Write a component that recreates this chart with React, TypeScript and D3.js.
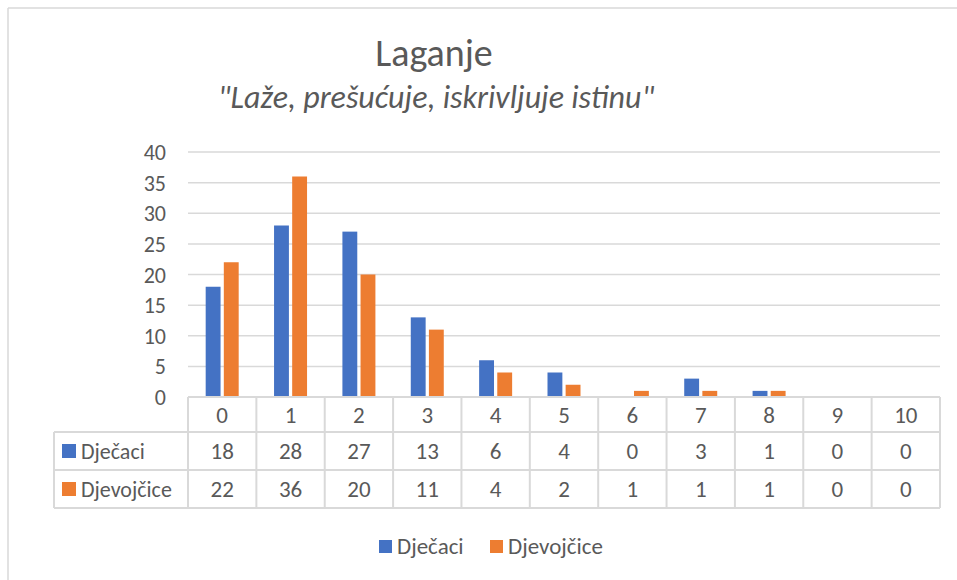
import { useRef, useEffect } from "react";
import * as d3 from "d3";

const categories = ["0", "1", "2", "3", "4", "5", "6", "7", "8", "9", "10"];
const seriesNames = ["Dječaci", "Djevojčice"];
const djecaci = [18, 28, 27, 13, 6, 4, 0, 3, 1, 0, 0];
const djevojcice = [22, 36, 20, 11, 4, 2, 1, 1, 1, 0, 0];
const colors = ["#4472C4", "#ED7D31"];
const yTicks = [0, 5, 10, 15, 20, 25, 30, 35, 40];

const FONT = "Carlito, Lato, 'Liberation Sans', sans-serif";
const TEXT = "#595959";
const GRID = "#d9d9d9";

export default function App() {
  const svgRef = useRef<SVGSVGElement>(null);

  useEffect(() => {
    if (!svgRef.current) return;
    const width = 957;
    const height = 580;
    const plot = { left: 188, right: 940, top: 152, bottom: 397 };
    const tableLeft = 54;
    const rowLines = [397, 432, 470, 508];
    const fs = 23;

    const svg = d3.select(svgRef.current);
    svg.selectAll("*").remove();
    svg.attr("width", width).attr("height", height).attr("viewBox", `0 0 ${width} ${height}`);

    svg.append("rect").attr("width", width).attr("height", height).attr("fill", "#fff");

    // outer chart border (top and left visible)
    svg.append("line").attr("x1", 8).attr("x2", width).attr("y1", 8).attr("y2", 8)
      .attr("stroke", GRID).attr("stroke-width", 1.5);
    svg.append("line").attr("x1", 8).attr("x2", 8).attr("y1", 8).attr("y2", height)
      .attr("stroke", GRID).attr("stroke-width", 1.5);

    // titles
    svg.append("text")
      .attr("x", 434).attr("y", 66)
      .attr("text-anchor", "middle")
      .attr("font-family", FONT).attr("font-weight", 300)
      .attr("font-size", 38).attr("fill", TEXT)
      .text("Laganje");
    svg.append("text")
      .attr("x", 436).attr("y", 108)
      .attr("text-anchor", "middle")
      .attr("font-family", FONT).attr("font-style", "italic")
      .attr("font-size", 32).attr("fill", TEXT)
      .text("\"Laže, prešućuje, iskrivljuje istinu\"");

    const x = d3.scaleBand<string>().domain(categories).range([plot.left, plot.right]);
    const bw = x.bandwidth();
    const inner = d3.scaleBand<string>()
      .domain(seriesNames)
      .range([bw / 2 - 16.5, bw / 2 + 16.5])
      .paddingInner(0.18);
    const y = d3.scaleLinear().domain([0, 40]).range([plot.bottom, plot.top]);

    // gridlines
    svg.append("g")
      .selectAll("line")
      .data(yTicks.slice(1))
      .join("line")
      .attr("x1", plot.left).attr("x2", plot.right)
      .attr("y1", (d) => y(d)).attr("y2", (d) => y(d))
      .attr("stroke", GRID).attr("stroke-width", 1.5);

    // y labels
    svg.append("g")
      .selectAll("text")
      .data(yTicks)
      .join("text")
      .attr("x", 166).attr("y", (d) => y(d) + 8)
      .attr("text-anchor", "end")
      .attr("font-family", FONT).attr("font-size", 22).attr("fill", TEXT)
      .text((d) => d);

    // bars
    const allSeries = [djecaci, djevojcice];
    allSeries.forEach((vals, si) => {
      svg.append("g")
        .selectAll("rect")
        .data(vals)
        .join("rect")
        .attr("x", (_d, i) => (x(categories[i]) as number) + (inner(seriesNames[si]) as number))
        .attr("y", (d) => y(d))
        .attr("width", inner.bandwidth())
        .attr("height", (d) => plot.bottom - y(d))
        .attr("fill", colors[si]);
    });

    // data table
    const tbl = svg.append("g");
    const lineStyle = (sel: any) => sel.attr("stroke", GRID).attr("stroke-width", 2);
    rowLines.forEach((ly, i) => {
      tbl.append("line")
        .attr("x1", i === 0 ? plot.left : tableLeft).attr("x2", plot.right)
        .attr("y1", ly).attr("y2", ly)
        .call(lineStyle);
    });
    const vx = categories.map((c) => x(c) as number).concat([plot.right]);
    vx.forEach((lx) => {
      tbl.append("line").attr("x1", lx).attr("x2", lx)
        .attr("y1", rowLines[0]).attr("y2", rowLines[3]).call(lineStyle);
    });
    tbl.append("line").attr("x1", tableLeft).attr("x2", tableLeft)
      .attr("y1", rowLines[1]).attr("y2", rowLines[3]).call(lineStyle);

    // category header
    tbl.selectAll("text.cat")
      .data(categories)
      .join("text")
      .attr("class", "cat")
      .attr("x", (d) => (x(d) as number) + bw / 2)
      .attr("y", (rowLines[0] + rowLines[1]) / 2 + 8)
      .attr("text-anchor", "middle")
      .attr("font-family", FONT).attr("font-size", fs).attr("fill", TEXT)
      .text((d) => d);

    allSeries.forEach((vals, si) => {
      const cy = (rowLines[si + 1] + rowLines[si + 2]) / 2 + 8;
      tbl.append("rect")
        .attr("x", 62).attr("y", cy - 15).attr("width", 14).attr("height", 14)
        .attr("fill", colors[si]);
      tbl.append("text")
        .attr("x", 81).attr("y", cy)
        .attr("font-family", FONT).attr("font-size", 22).attr("fill", TEXT)
        .text(seriesNames[si]);
      tbl.append("g")
        .selectAll("text")
        .data(vals)
        .join("text")
        .attr("x", (_d, i) => (x(categories[i]) as number) + bw / 2)
        .attr("y", cy)
        .attr("text-anchor", "middle")
        .attr("font-family", FONT).attr("font-size", fs).attr("fill", TEXT)
        .text((d) => d);
    });

    // legend
    const legendItems = [
      { name: seriesNames[0], sx: 379, tx: 397 },
      { name: seriesNames[1], sx: 490, tx: 508 },
    ];
    legendItems.forEach((it, i) => {
      svg.append("rect").attr("x", it.sx).attr("y", 540).attr("width", 13).attr("height", 13)
        .attr("fill", colors[i]);
      svg.append("text").attr("x", it.tx).attr("y", 554)
        .attr("font-family", FONT).attr("font-size", fs).attr("fill", TEXT)
        .text(it.name);
    });
  }, []);

  return (
    <div style={{ position: "absolute", left: 0, top: 0 }}>
      <svg ref={svgRef} style={{ display: "block" }} />
    </div>
  );
}
